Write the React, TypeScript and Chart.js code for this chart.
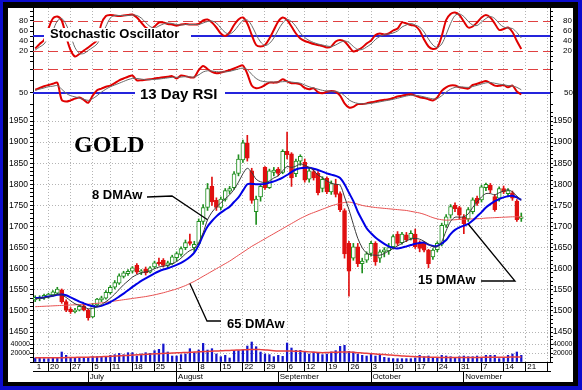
import React, { useEffect, useRef } from 'react';
import { Chart, registerables } from 'chart.js';

Chart.register(...registerables);

const FONT = 'Arial, "Liberation Sans", Helvetica, sans-serif';
const SERIF = '"Liberation Serif", "Times New Roman", serif';
const GRID = '#b4b4b4';

// ---------------- data (trading days 15 Jun 2011 .. 18 Nov 2011) ----------------
const open = [
  1526, 1529, 1530, 1534, 1538, 1542, 1550, 1522, 1504, 1498,
  1502, 1512, 1502, 1486, 1514, 1526, 1530, 1543, 1556, 1566,
  1582, 1588, 1594, 1608, 1592, 1600, 1592, 1604, 1616, 1620,
  1608, 1612, 1626, 1634, 1650, 1664, 1650, 1660, 1712, 1745,
  1795, 1762, 1745, 1764, 1784, 1792, 1826, 1858, 1898, 1832,
  1735, 1770, 1840, 1792, 1828, 1836, 1828, 1878, 1872, 1825,
  1855, 1852, 1812, 1830, 1826, 1790, 1814, 1782, 1800, 1778,
  1738, 1660, 1625, 1652, 1612, 1620, 1636, 1660, 1625, 1640,
  1642, 1652, 1682, 1662, 1680, 1672, 1682, 1662, 1660, 1644,
  1628, 1645, 1658, 1703, 1727, 1750, 1745, 1723, 1718, 1735,
  1767, 1763, 1792, 1798, 1771, 1767, 1790, 1778, 1780, 1760,
  1719,
];
const high = [
  1536, 1536, 1540, 1542, 1548, 1556, 1552, 1526, 1508, 1506,
  1514, 1516, 1504, 1518, 1530, 1535, 1548, 1560, 1572, 1588,
  1594, 1598, 1605, 1612, 1598, 1604, 1605, 1618, 1625, 1624,
  1618, 1632, 1640, 1652, 1668, 1682, 1665, 1718, 1752, 1802,
  1817, 1768, 1770, 1790, 1795, 1830, 1870, 1905, 1916, 1838,
  1772, 1800, 1842, 1836, 1840, 1840, 1882, 1924, 1875, 1860,
  1870, 1860, 1838, 1838, 1830, 1818, 1818, 1808, 1812, 1782,
  1742, 1665, 1660, 1660, 1625, 1640, 1665, 1664, 1645, 1650,
  1660, 1680, 1688, 1686, 1686, 1690, 1694, 1666, 1664, 1646,
  1648, 1664, 1708, 1728, 1752, 1756, 1748, 1728, 1745, 1768,
  1772, 1798, 1803, 1802, 1776, 1794, 1796, 1790, 1784, 1764,
  1732,
];
const low = [
  1522, 1524, 1527, 1530, 1535, 1540, 1518, 1498, 1494, 1495,
  1500, 1500, 1478, 1484, 1512, 1522, 1528, 1540, 1552, 1563,
  1578, 1584, 1590, 1588, 1586, 1585, 1590, 1600, 1608, 1604,
  1602, 1610, 1618, 1630, 1645, 1656, 1640, 1658, 1705, 1738,
  1750, 1738, 1740, 1760, 1778, 1788, 1820, 1852, 1855, 1755,
  1705, 1760, 1788, 1790, 1820, 1820, 1825, 1860, 1795, 1818,
  1845, 1805, 1805, 1810, 1775, 1782, 1778, 1776, 1770, 1735,
  1625, 1535, 1620, 1605, 1590, 1615, 1630, 1608, 1615, 1628,
  1634, 1648, 1655, 1658, 1664, 1668, 1648, 1640, 1640, 1602,
  1622, 1640, 1654, 1698, 1720, 1735, 1718, 1683, 1712, 1730,
  1750, 1758, 1785, 1780, 1736, 1760, 1778, 1770, 1762, 1712,
  1712,
];
const close = [
  1532, 1531, 1537, 1540, 1545, 1552, 1522, 1502, 1498, 1502,
  1511, 1503, 1484, 1514, 1528, 1531, 1544, 1556, 1567, 1583,
  1590, 1594, 1602, 1592, 1595, 1590, 1602, 1614, 1612, 1608,
  1614, 1628, 1636, 1648, 1662, 1660, 1658, 1712, 1745, 1790,
  1758, 1745, 1765, 1785, 1790, 1825, 1860, 1898, 1862, 1762,
  1765, 1795, 1792, 1832, 1834, 1826, 1878, 1870, 1815, 1855,
  1866, 1810, 1832, 1815, 1780, 1812, 1782, 1802, 1776, 1740,
  1635, 1594, 1652, 1612, 1618, 1635, 1660, 1616, 1640, 1645,
  1650, 1676, 1660, 1682, 1668, 1684, 1652, 1648, 1644, 1612,
  1644, 1660, 1703, 1723, 1747, 1742, 1727, 1707, 1740, 1763,
  1755, 1794, 1800, 1786, 1740, 1790, 1782, 1785, 1767, 1716,
  1723,
];
const dma8 = [
  1529, 1530, 1531, 1533, 1536, 1540, 1538, 1532, 1524, 1517,
  1513, 1510, 1505, 1506, 1510, 1515, 1522, 1530, 1540, 1551,
  1562, 1571, 1580, 1586, 1590, 1592, 1595, 1600, 1604, 1606,
  1608, 1612, 1617, 1625, 1635, 1643, 1648, 1662, 1685, 1716,
  1734, 1746, 1756, 1766, 1775, 1788, 1805, 1825, 1838, 1828,
  1812, 1806, 1804, 1808, 1815, 1820, 1832, 1842, 1840, 1843,
  1848, 1845, 1840, 1833, 1822, 1816, 1808, 1803, 1800, 1798,
  1770, 1740, 1705, 1672, 1650, 1637, 1633, 1632, 1632, 1636,
  1642, 1648, 1654, 1660, 1666, 1670, 1672, 1670, 1665, 1658,
  1652, 1652, 1664, 1690, 1712, 1722, 1722, 1723, 1730, 1745,
  1758, 1770, 1778, 1778, 1775, 1780, 1784, 1787, 1782, 1772,
  1762,
];
const dma15 = [
  1530, 1531, 1532, 1534, 1536, 1538, 1539, 1537, 1532, 1527,
  1522, 1518, 1514, 1511, 1510, 1512, 1516, 1521, 1527, 1534,
  1541, 1549, 1557, 1564, 1571, 1577, 1583, 1589, 1594, 1598,
  1601, 1605, 1609, 1614, 1620, 1628, 1638, 1656, 1680, 1700,
  1713, 1724, 1733, 1740, 1747, 1758, 1769, 1785, 1800, 1801,
  1800, 1800, 1801, 1804, 1807, 1811, 1816, 1822, 1829, 1835,
  1838, 1839, 1839, 1837, 1834, 1830, 1826, 1823, 1820, 1815,
  1800, 1780, 1760, 1735, 1715, 1696, 1684, 1674, 1666, 1659,
  1653, 1649, 1648, 1650, 1653, 1656, 1659, 1661, 1662, 1657,
  1654, 1654, 1660, 1668, 1682, 1692, 1698, 1702, 1706, 1714,
  1724, 1734, 1745, 1753, 1760, 1765, 1769, 1772, 1773, 1769,
  1763,
];
const dma65 = [
  1510, 1510.5, 1511, 1511.5, 1512, 1512.5, 1513, 1513.5, 1514, 1514.5,
  1515, 1515.5, 1516, 1517, 1518, 1519, 1520.5, 1522, 1523.5, 1525,
  1526.5, 1528, 1529.5, 1531, 1532.5, 1534, 1536, 1538, 1540.5, 1543,
  1546, 1549, 1552, 1556, 1560, 1565, 1570, 1576, 1582, 1588,
  1594, 1600, 1606, 1612, 1618, 1625, 1632, 1639, 1646, 1653,
  1659, 1665, 1671, 1677, 1683, 1689, 1695, 1701, 1707, 1713,
  1719, 1724, 1729, 1733, 1737, 1741, 1745, 1749, 1752, 1755,
  1757, 1758, 1756, 1753, 1750, 1748, 1746.5, 1745, 1744, 1743,
  1742, 1741, 1740, 1739, 1738, 1736, 1734, 1732, 1729, 1725,
  1721, 1718, 1716, 1715, 1715.5, 1716, 1717, 1717, 1717.5, 1718,
  1718.5, 1719, 1720, 1720.5, 1721, 1721.5, 1722, 1722.5, 1723, 1723,
  1723,
];
const stochK = [
  25, 34, 42, 65, 85, 89, 81, 49, 22, 9,
  14, 21, 27, 34, 42, 75, 90, 92, 91, 90,
  91, 92, 93, 87, 77, 67, 63, 69, 77, 77,
  74, 73, 71, 73, 74, 73, 73, 74, 81, 83,
  77, 67, 55, 50, 57, 72, 83, 87, 75, 52,
  32, 29, 32, 45, 62, 79, 87, 82, 69, 55,
  45, 40, 37, 34, 32, 30, 27, 29, 39, 42,
  39, 29, 19, 22, 27, 35, 41, 52, 55, 53,
  55, 61, 65, 77, 75, 72, 70, 61, 43, 29,
  24, 27, 50, 82, 94, 97, 92, 79, 67, 69,
  77, 87, 92, 87, 75, 62, 64, 67, 58, 40,
  24,
];
const stochD = [
  22, 28, 34, 47, 61, 80, 85, 73, 51, 27,
  15, 15, 21, 27, 34, 50, 69, 86, 91, 91,
  91, 91, 92, 91, 86, 77, 69, 66, 70, 74,
  76, 75, 73, 72, 73, 73, 73, 73, 76, 79,
  80, 76, 66, 57, 54, 60, 71, 81, 82, 71,
  53, 38, 31, 35, 46, 62, 76, 83, 79, 69,
  56, 47, 41, 37, 34, 32, 30, 29, 32, 37,
  40, 37, 29, 23, 23, 28, 34, 43, 49, 53,
  54, 56, 60, 68, 72, 75, 72, 68, 58, 44,
  32, 27, 34, 53, 75, 91, 94, 89, 79, 72,
  71, 78, 85, 89, 85, 75, 68, 66, 65, 57,
  46,
];
const rsi = [
  52.5, 54, 55.5, 56.5, 57.5, 58.5, 44, 42.5, 43.5, 45,
  46, 44, 41.5, 47.5, 52, 53.5, 55, 56, 58, 60.5,
  62, 63.5, 64.5, 60.5, 60.5, 61, 61.3, 62, 62.5, 63,
  63.5, 64, 62, 64.5, 64, 63, 63, 69, 72.5, 70,
  67.5, 66.5, 67, 68, 69, 70.5, 72, 73, 66, 56,
  53.7, 54.5, 56.5, 58.5, 58.5, 59, 61.3, 59.5, 58, 58,
  57, 54, 53, 53.7, 50.5, 49.5, 50.8, 51.5, 50.8, 47.5,
  41, 37.5, 38, 40.4, 40.4, 41, 42, 42.5, 43.5, 44,
  44.4, 45.5, 46.8, 47.5, 48.3, 48.6, 47.5, 46.2, 45.5, 44.5,
  43.5, 46, 51.5, 54.5, 56, 56, 54.5, 54, 53.5, 56.5,
  57.5, 58.8, 59.8, 58.2, 56, 55.8, 56.4, 54.5, 56, 51,
  48.5,
];
const rsiSignal = [
  52, 53, 54, 55, 55.5, 56, 53, 49.5, 47.5, 46.5,
  45.5, 44.5, 43.5, 45, 47.5, 50.5, 53, 55, 56.5, 58,
  59.5, 61, 62, 62, 61.5, 61, 61, 61.2, 61.5, 62,
  62.5, 63, 63, 63.2, 63.5, 63.3, 63.2, 65, 67.5, 68.5,
  68.3, 67.8, 67.5, 67.6, 68, 69, 70, 70.8, 69.5, 65.5,
  62, 60, 59.3, 59, 59, 59, 59.3, 59.4, 59, 58.5,
  58, 56.5, 55, 54, 53, 52, 51.5, 51.2, 51, 50,
  47.5, 44, 42, 41, 40.6, 40.6, 41, 41.6, 42.3, 43,
  43.7, 44.4, 45.3, 46.3, 47.2, 47.8, 47.8, 47.3, 46.5, 45.6,
  44.8, 45, 47.5, 50.5, 53, 54.5, 55, 54.7, 54.5, 55.2,
  56.2, 57.3, 58.3, 58.6, 58, 57.2, 56.8, 56, 55.8, 54.5,
  52.5,
];
const volume = [
  8900, 8900, 7400, 7400, 8900, 10400, 22200, 14800, 8900, 8900,
  10400, 10400, 10400, 11800, 11800, 11800, 11800, 14800, 16300, 19200,
  16300, 20700, 20700, 13300, 17800, 20700, 19200, 25200, 28100, 40000,
  22200, 13300, 13300, 16300, 17800, 29600, 20700, 26600, 41400, 26600,
  29600, 17800, 11800, 14800, 8900, 25200, 25200, 26600, 35500, 44400,
  34000, 22200, 17800, 16300, 11800, 14800, 12600, 42200, 31100, 25900,
  25900, 22200, 17800, 22200, 20000, 16300, 17800, 22200, 25200, 34800,
  37000, 23700, 22200, 17800, 14800, 13300, 17800, 13300, 14800, 10400,
  8900, 7400, 7400, 7400, 7400, 7400, 8900, 14800, 11800, 13300,
  8900, 10400, 14800, 13300, 11800, 10400, 11800, 13300, 11800, 11800,
  13300, 10400, 14800, 14800, 14800, 7400, 10400, 14800, 17800, 22200,
  14800,
];
const volumeMA = [
  9600, 9600, 9600, 9600, 9600, 9600, 9600, 9800, 10000, 10200,
  10400, 10600, 10800, 11000, 11200, 11700, 12200, 12700, 13200, 13700,
  14200, 14700, 15300, 15900, 16400, 17000, 17500, 18100, 18600, 19100,
  19500, 19900, 20300, 20700, 21100, 21600, 22100, 22600, 23100, 23500,
  24000, 24400, 24900, 25300, 25800, 26200, 26600, 27000, 27400, 27800,
  28000, 27500, 26800, 26000, 25200, 24600, 24300, 24500, 24300, 24000,
  23700, 23100, 22500, 21900, 21300, 20700, 21000, 21400, 21800, 22200,
  22300, 22200, 21600, 20800, 20000, 19200, 18500, 17800, 17100, 16400,
  15700, 15000, 14300, 13600, 12900, 12300, 11800, 11400, 11000, 10700,
  10400, 10300, 10200, 10200, 10100, 10100, 10100, 10000, 10000, 10100,
  10200, 10300, 10400, 10500, 10500, 10600, 10700, 10800, 11000, 11200,
  11300,
];

// x axis: trading-day slots (data + empty space on the right)
const SLOTS = 117;
const weekStartIdx = [3, 8, 13, 17, 22, 27, 32, 37, 42, 47, 52, 57, 61, 66, 71, 76, 81, 86, 91, 96, 101, 106, 111, 116];
const weekLabels = ['20', '27', '5', '11', '18', '25', '1', '8', '15', '22', '29', '6', '12', '19', '26', '3', '10', '17', '24', '31', '7', '14', '21', ''];
const monthStartIdx = [12, 32, 55, 76, 97];
const monthLabels = ['July', 'August', 'September', 'October', 'November'];

// ---------------- helpers ----------------
function range(a: number, b: number, step: number) {
  const out: number[] = [];
  for (let v = a; v <= b + 1e-9; v += step) out.push(Math.round(v * 1000) / 1000);
  return out;
}
const slotIds = Array.from({ length: SLOTS }, (_, i) => String(i));
const weekSet = new Set(weekStartIdx);
const monthSet = new Set(monthStartIdx);
const dayLabels = slotIds.map((_, i) => {
  const k = weekStartIdx.indexOf(i);
  if (k >= 0) return weekLabels[k];
  return i === 0 ? '1' : '';
});
const monLabels = slotIds.map((_, i) => {
  const k = monthStartIdx.indexOf(i);
  return k >= 0 ? monthLabels[k] : '';
});

const LEFT_W = 33;
const RIGHT_W = 32;

function yAxes(min: number, max: number, tickVals: number[], labelVals: number[], gridVals: number[], fontSize: number, leftPad = 2, rightPad = 0) {
  const mk = (pos: 'left' | 'right') => ({
    type: 'linear',
    position: pos,
    min,
    max,
    bounds: 'data',
    afterBuildTicks: (s: any) => {
      s.ticks = tickVals.map((v) => ({ value: v }));
    },
    afterFit: (s: any) => {
      s.width = pos === 'left' ? LEFT_W : RIGHT_W;
      s.paddingTop = 0;
      s.paddingBottom = 0;
    },
    ticks: {
      autoSkip: false,
      padding: pos === 'left' ? leftPad : rightPad,
      color: '#000',
      font: { size: fontSize, family: FONT },
      callback: (v: number) => (labelVals.includes(v) ? String(v) : ''),
    },
    grid: {
      drawOnChartArea: pos === 'left',
      color: (c: any) => (c.tick && gridVals.includes(c.tick.value) ? GRID : 'transparent'),
      lineWidth: 1,
      tickLength: 3,
      tickColor: '#000',
      tickWidth: 1,
      tickBorderDash: [],
    },
    border: { display: true, color: '#000', width: 1, dash: [1, 2] },
  });
  return { y: mk('left'), yR: mk('right') };
}

const hiddenX = () => ({
  type: 'category',
  labels: slotIds,
  offset: true,
  afterFit: (s: any) => {
    s.height = 0;
    s.paddingLeft = 0;
    s.paddingRight = 0;
  },
  ticks: { display: false, autoSkip: false },
  grid: {
    offset: false,
    drawTicks: false,
    lineWidth: 1,
    color: (c: any) => (weekSet.has(c.index) ? GRID : 'transparent'),
  },
  border: { display: false, dash: [1, 2] },
});

const baseOptions = (scales: any) => ({
  responsive: false,
  maintainAspectRatio: false,
  animation: false,
  devicePixelRatio: 1,
  events: [],
  layout: { padding: 0 },
  plugins: { legend: { display: false }, tooltip: { enabled: false }, title: { display: false } },
  scales,
});

type Ref = { v: number; color: string; width: number; dash: number[] };
const refLines = (lines: Ref[]) => ({
  id: 'refLines',
  beforeDatasetsDraw(chart: any) {
    const { ctx, chartArea } = chart;
    const ys = chart.scales.y;
    ctx.save();
    for (const l of lines) {
      const y = Math.round(ys.getPixelForValue(l.v)) + (l.width % 2 ? 0.5 : 0);
      ctx.strokeStyle = l.color;
      ctx.lineWidth = l.width;
      ctx.setLineDash(l.dash);
      ctx.beginPath();
      ctx.moveTo(chartArea.left, y);
      ctx.lineTo(chartArea.right, y);
      ctx.stroke();
    }
    ctx.restore();
  },
});

const labelBox = (box: number[], text: string, tx: number, ty: number, font: string) => ({
  id: 'labelBox',
  afterDatasetsDraw(chart: any) {
    const ctx = chart.ctx;
    ctx.save();
    ctx.fillStyle = '#ffffff';
    ctx.fillRect(box[0], box[1], box[2], box[3]);
    ctx.fillStyle = '#000';
    ctx.font = font;
    ctx.textAlign = 'left';
    ctx.textBaseline = 'alphabetic';
    ctx.fillText(text, tx, ty);
    ctx.restore();
  },
});

// ---------------- panel configs ----------------
const STOCH_TOP = 8, STOCH_H = 54;
const RSI_TOP = 62, RSI_H = 49;
const PRICE_TOP = 111, PRICE_H = 226;
const VOL_TOP = 337, VOL_H = 46;

const stochConfig = () => ({
  type: 'bar',
  data: {
    labels: slotIds,
    datasets: [
      { type: 'line', data: stochD, borderColor: '#6a6a6a', borderWidth: 1, pointRadius: 0, tension: 0.3, order: 1 },
      { type: 'line', data: stochK, borderColor: '#e00000', borderWidth: 2, pointRadius: 0, tension: 0.3, order: 2 },
    ],
  },
  options: baseOptions({ x: hiddenX(), ...yAxes(-2, 106, range(0, 100, 10), [20, 40, 60, 80], [], 8, 2, 10) }),
  plugins: [
    refLines([
      { v: 80, color: '#e04040', width: 1, dash: [10, 5] },
      { v: 20, color: '#e04040', width: 1, dash: [10, 5] },
      { v: 50, color: '#2424dc', width: 2, dash: [] },
    ]),
    labelBox([44, 20, 147, 13.5], 'Stochastic Oscillator', 50, 30.3, `bold 13px ${FONT}`),
  ],
});

const rsiConfig = () => ({
  type: 'bar',
  data: {
    labels: slotIds,
    datasets: [
      { type: 'line', data: rsiSignal, borderColor: '#6a6a6a', borderWidth: 1, pointRadius: 0, tension: 0.3, order: 1 },
      { type: 'line', data: rsi, borderColor: '#e00000', borderWidth: 2, pointRadius: 0, tension: 0.3, order: 2 },
    ],
  },
  options: baseOptions({ x: hiddenX(), ...yAxes(34.56, 75.91, [40, 50, 60, 70], [50], [], 8, 2, 11) }),
  plugins: [
    refLines([
      { v: 70, color: '#e04040', width: 1, dash: [10, 5] },
      { v: 50, color: '#2424dc', width: 2, dash: [] },
    ]),
    labelBox([135, 23, 90, 19], '13 Day RSI', 140, 37, `bold 15px ${FONT}`),
  ],
});

const UP = '#1f8f1f';
const DOWN = '#e01010';

const priceAnno = {
  id: 'priceAnno',
  afterDatasetsDraw(chart: any) {
    const { ctx } = chart;
    const xs = chart.scales.x;
    const ys = chart.scales.y;
    const pt = (arr: number[], i: number) => [xs.getPixelForValue(i), ys.getPixelForValue(arr[i])];
    ctx.save();
    ctx.fillStyle = '#000';
    ctx.textAlign = 'left';
    ctx.textBaseline = 'alphabetic';
    ctx.font = `bold 24px ${SERIF}`;
    ctx.fillText('GOLD', 74, 41);
    ctx.font = `bold 13px ${FONT}`;
    ctx.fillText('8 DMAw', 92, 88);
    ctx.fillText('65 DMAw', 227, 217);
    ctx.fillText('15 DMAw', 418, 173);
    ctx.strokeStyle = '#000';
    ctx.lineWidth = 1.3;
    ctx.setLineDash([]);
    const a8 = pt(dma8, 39);
    ctx.beginPath();
    ctx.moveTo(147, 86);
    ctx.lineTo(172, 85);
    ctx.lineTo(a8[0], a8[1]);
    ctx.stroke();
    const a65 = pt(dma65, 35);
    ctx.beginPath();
    ctx.moveTo(a65[0], a65[1]);
    ctx.lineTo(207, 210);
    ctx.lineTo(221, 210);
    ctx.stroke();
    const a15 = pt(dma15, 98);
    ctx.beginPath();
    ctx.moveTo(481, 170);
    ctx.lineTo(515, 170);
    ctx.lineTo(a15[0], a15[1]);
    ctx.stroke();
    ctx.restore();
  },
};

const priceConfig = () => {
  const up = close.map((c, i) => c >= open[i]);
  return {
    type: 'bar',
    data: {
      labels: slotIds,
      datasets: [
        { type: 'line', data: dma8, borderColor: '#3a3a3a', borderWidth: 1, pointRadius: 0, tension: 0.3, order: 1 },
        { type: 'line', data: dma15, borderColor: '#0000e6', borderWidth: 2, pointRadius: 0, tension: 0.3, order: 2 },
        { type: 'line', data: dma65, borderColor: '#e85050', borderWidth: 1, pointRadius: 0, tension: 0.3, order: 3 },
        {
          type: 'bar',
          data: open.map((o, i) => [Math.min(o, close[i]), Math.max(o, close[i])]),
          backgroundColor: up.map((u) => (u ? '#ffffff' : DOWN)),
          borderColor: up.map((u) => (u ? UP : DOWN)),
          borderWidth: 1,
          borderSkipped: false,
          barThickness: 4,
          grouped: false,
          order: 5,
        },
        {
          type: 'bar',
          data: low.map((l, i) => [l, high[i]]),
          backgroundColor: up.map((u) => (u ? UP : DOWN)),
          borderWidth: 0,
          barThickness: 1,
          grouped: false,
          order: 6,
        },
      ],
    },
    options: baseOptions({
      x: hiddenX(),
      ...yAxes(1438.2, 1973.7, range(1440, 1970, 10), range(1450, 1950, 50), range(1450, 1950, 50), 8.5),
    }),
    plugins: [priceAnno],
  };
};

const volConfig = () => ({
  type: 'bar',
  data: {
    labels: dayLabels,
    datasets: [
      { type: 'line', data: volumeMA, borderColor: '#e84040', borderWidth: 1.5, pointRadius: 0, tension: 0.3, order: 1 },
      { type: 'bar', data: volume, backgroundColor: '#1414cc', barThickness: 1.6, grouped: false, order: 2 },
    ],
  },
  options: baseOptions({
    x: {
      type: 'category',
      labels: dayLabels,
      offset: true,
      position: 'bottom',
      weight: 0,
      afterFit: (s: any) => {
        s.height = 9;
        s.paddingLeft = 0;
        s.paddingRight = 0;
      },
      ticks: {
        autoSkip: false,
        maxRotation: 0,
        minRotation: 0,
        align: 'start',
        labelOffset: 1.5,
        padding: -9.3,
        color: '#000',
        font: { size: 8, family: FONT },
      },
      grid: {
        offset: false,
        tickLength: 9,
        lineWidth: 1,
        color: (c: any) => (weekSet.has(c.index) ? GRID : 'transparent'),
        tickColor: (c: any) => (weekSet.has(c.index) ? '#000' : 'transparent'),
        tickWidth: 1,
        tickBorderDash: [],
      },
      border: { display: true, color: '#000', width: 1, dash: [1, 2] },
    },
    x2: {
      type: 'category',
      labels: monLabels,
      offset: true,
      position: 'bottom',
      weight: 1,
      afterFit: (s: any) => {
        s.height = 12;
        s.paddingLeft = 0;
        s.paddingRight = 0;
      },
      ticks: {
        autoSkip: false,
        maxRotation: 0,
        minRotation: 0,
        align: 'start',
        labelOffset: 1.5,
        padding: -10.8,
        color: '#000',
        font: { size: 8, family: FONT },
      },
      grid: {
        offset: false,
        drawOnChartArea: false,
        tickLength: 12,
        lineWidth: 1,
        color: 'transparent',
        tickColor: (c: any) => (monthSet.has(c.index) ? '#000' : 'transparent'),
        tickWidth: 1,
        tickBorderDash: [],
      },
      border: { display: true, color: '#000', width: 1 },
    },
    ...yAxes(0, 55556, range(0, 50000, 10000), [20000, 40000], [20000, 40000], 7, 0, 0),
  }),
});

// ---------------- components ----------------
function ChartBox({ top, height, build }: { top: number; height: number; build: () => any }) {
  const ref = useRef<HTMLCanvasElement | null>(null);
  useEffect(() => {
    const chart = new Chart(ref.current as HTMLCanvasElement, build());
    return () => chart.destroy();
  }, []);
  return (
    <canvas
      ref={ref}
      width={582}
      height={height}
      style={{ position: 'absolute', left: 0, top, width: 582, height, display: 'block' }}
    />
  );
}

export default function App() {
  return (
    <div style={{ position: 'fixed', left: 0, top: 0, width: 582, height: 390, background: '#0c0ccc', overflow: 'hidden' }}>
      <div style={{ position: 'absolute', left: 3, top: 2, width: 575, height: 384, background: '#000' }} />
      <div style={{ position: 'absolute', left: 8, top: 8, width: 565, height: 374, background: '#fff' }} />
      <ChartBox top={STOCH_TOP} height={STOCH_H} build={stochConfig} />
      <ChartBox top={RSI_TOP} height={RSI_H} build={rsiConfig} />
      <ChartBox top={PRICE_TOP} height={PRICE_H} build={priceConfig} />
      <ChartBox top={VOL_TOP} height={VOL_H} build={volConfig} />
    </div>
  );
}
